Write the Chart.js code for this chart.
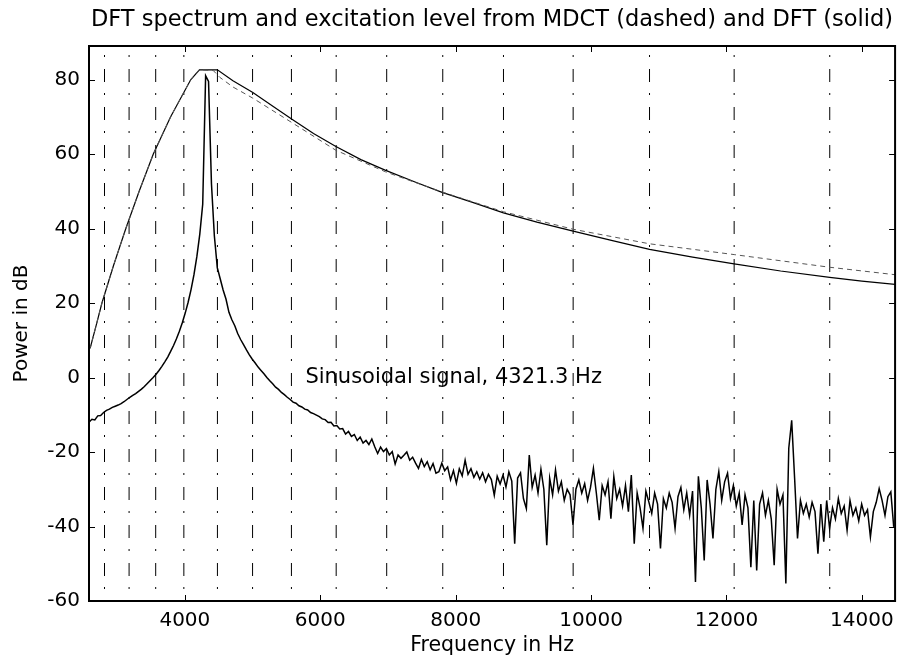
<!DOCTYPE html>
<html>
<head>
<meta charset="utf-8">
<script src="https://cdn.jsdelivr.net/npm/chart.js@4/dist/chart.umd.min.js"></script>
<style>
  html, body { margin: 0; padding: 0; background: #fff; }
  #c { display: block; }
</style>
</head>
<body>
<canvas id="c" width="902" height="659"></canvas>
<script>
// ---------------- data ----------------
const titleText = 'DFT spectrum and excitation level from MDCT (dashed) and DFT (solid)';
const xTitle = 'Frequency in Hz';
const yTitle = 'Power in dB';
const noteText = 'Sinusoidal signal, 4321.3 Hz';
const noteFreq = 5780;   // anchor of the annotation (data units)
const noteDb = 0;

const xMin = 2584, xMax = 14490;
const yMin = -60, yMax = 89;
const xTicks = [4000, 6000, 8000, 10000, 12000, 14000];
const yTicks = [-60, -40, -20, 0, 20, 40, 60, 80];

// band edges (dash-dot vertical lines), Hz
const bandEdgesHz = [2813, 3176, 3569, 3985, 4481, 5000, 5574, 6235, 6981, 7809, 8706, 9735, 10863, 12113, 13525];

// excitation level from DFT (solid)
const excDftHz = [2584, 2603, 2690, 2775, 2945, 3128, 3325, 3534, 3790, 4088, 4215, 4480, 4710, 5004, 5300, 5593, 5900, 6231, 6600, 6966, 7400, 7799, 8250, 8706, 9200, 9735, 10300, 10863, 11500, 12113, 12800, 13525, 14000, 14490];
const excDftDb = [7.6, 8.0, 14.0, 20.0, 30.0, 40.0, 50.0, 60.0, 70.0, 80.0, 82.6, 82.6, 79.7, 76.5, 72.8, 69.2, 65.5, 62.0, 58.5, 55.6, 52.5, 49.7, 47.0, 44.2, 41.7, 39.3, 36.8, 34.4, 32.3, 30.5, 28.6, 26.9, 25.9, 25.0];

// excitation level from MDCT (dashed)
const excMdctHz = [2584, 2603, 2690, 2775, 2945, 3128, 3325, 3534, 3790, 4088, 4215, 4420, 4515, 4710, 5004, 5593, 6231, 6966, 7799, 8706, 9735, 10863, 12113, 13525, 14490];
const excMdctDb = [7.6, 8.0, 14.0, 20.0, 30.0, 40.0, 50.0, 60.0, 70.0, 80.0, 82.6, 82.4, 80.6, 78.0, 75.0, 68.3, 61.0, 55.2, 49.8, 44.5, 39.8, 35.9, 33.0, 29.6, 27.6];

// DFT spectrum, one value per DFT bin (bin width binHz, first bin firstBin)
const binHz = 43.066;
const firstBin = 60;
const spectrumDb = [
  -12.0, -11.2, -11.4, -10.3, -10.2, -9.4, -8.8, -8.5, -8.0, -7.7,
  -7.4, -7.0, -6.5, -5.9, -5.3, -4.8, -4.3, -3.7, -3.1, -2.4,
  -1.6, -0.8, 0.0, 0.9, 1.9, 3.0, 4.2, 5.5, 7.0, 8.6,
  10.4, 12.4, 14.7, 17.3, 20.2, 23.6, 27.6, 32.5, 38.5, 46.5,
  81.0, 79.5, 52.0, 38.0, 29.5, 26.5, 23.5, 21.0, 17.5, 15.5,
  13.9, 11.8, 10.2, 8.8, 7.4, 6.1, 4.9, 3.9, 2.8, 1.9,
  1.0, 0.0, -0.9, -1.7, -2.6, -3.2, -4.0, -4.6, -5.3, -5.9,
  -6.6, -6.9, -7.6, -7.9, -8.5, -8.7, -9.4, -9.7, -10.1, -10.5,
  -11.1, -11.3, -12.1, -12.0, -13.0, -12.9, -13.8, -13.7, -15.2, -14.5,
  -15.8, -15.3, -16.9, -16.0, -17.6, -16.9, -18.0, -16.5, -18.6, -20.4,
  -18.7, -19.9, -19.1, -20.8, -19.9, -23.2, -20.8, -21.7, -20.9, -20.0,
  -22.2, -21.4, -23.0, -24.4, -22.0, -23.9, -22.6, -24.8, -23.1, -25.7,
  -25.3, -23.0, -25.0, -24.0, -27.5, -25.0, -28.4, -24.5, -26.4, -22.2,
  -26.0, -24.5, -26.8, -25.3, -27.3, -25.6, -28.0, -26.0, -27.4, -31.6,
  -26.5, -28.6, -26.2, -29.4, -25.3, -27.8, -44.6, -27.0, -25.6, -32.5,
  -35.2, -20.8, -29.5, -26.2, -31.0, -24.6, -30.0, -45.0, -27.0, -31.5,
  -24.8, -30.5, -28.0, -33.0, -30.0, -31.5, -39.6, -30.0, -27.5, -31.0,
  -28.5, -33.0, -29.5, -24.4, -31.0, -38.3, -29.0, -31.5, -28.0, -37.9,
  -26.6, -32.5, -30.0, -34.5, -29.0, -36.0, -26.2, -44.6, -31.0, -35.0,
  -40.5, -30.5, -33.4, -36.5, -31.0, -34.0, -45.9, -32.5, -35.0, -31.0,
  -33.5, -40.5, -32.0, -29.5, -35.5, -31.0, -37.0, -30.5, -54.9, -26.5,
  -35.0, -49.1, -27.5, -34.0, -43.2, -30.0, -25.3, -33.0, -28.0, -25.7,
  -32.5, -29.0, -34.5, -31.0, -39.6, -31.5, -35.0, -50.9, -33.0, -51.8,
  -34.0, -31.0, -37.0, -33.0, -38.0, -50.4, -30.0, -34.0, -31.5, -55.3,
  -19.0, -11.5, -27.0, -43.2, -33.0, -36.5, -34.0, -37.5, -33.5, -36.0,
  -47.3, -34.0, -44.1, -33.0, -40.5, -35.0, -38.0, -32.5, -36.5, -34.5,
  -41.0, -33.0, -37.0, -35.0, -38.5, -34.0, -37.0, -35.5, -42.8, -36.0,
  -33.5, -29.8, -33.0, -37.0, -32.0, -30.7, -40.1
];

// ---------------- chart ----------------
const FONT = 'DejaVu Sans';
const pairs = (xs, ys) => xs.map((v, i) => ({ x: v, y: ys[i] }));
const spectrumPts = spectrumDb.map((v, i) => ({ x: (firstBin + i) * binHz, y: v }));

const bandSets = bandEdgesHz.map(f => ({
  data: [{ x: f, y: yMax }, { x: f, y: yMin }],
  borderColor: '#000',
  borderWidth: 1,
  borderDash: [13, 11, 2, 12],
  borderDashOffset: 15,
  pointRadius: 0,
  order: 10
}));

const framePlugin = {
  id: 'frameTicks',
  afterDatasetsDraw(chart) {
    const { ctx, chartArea: a, scales } = chart;
    const xs = scales.x, ys = scales.y;
    const TL = 6;
    ctx.save();
    ctx.strokeStyle = '#000';
    ctx.lineWidth = 1;
    ctx.beginPath();
    xs.ticks.forEach(t => {
      const p = Math.round(xs.getPixelForValue(t.value)) + 0.5;
      ctx.moveTo(p, a.bottom); ctx.lineTo(p, a.bottom - TL);
      ctx.moveTo(p, a.top); ctx.lineTo(p, a.top + TL);
    });
    ys.ticks.forEach(t => {
      const p = Math.round(ys.getPixelForValue(t.value)) + 0.5;
      ctx.moveTo(a.left, p); ctx.lineTo(a.left + TL, p);
      ctx.moveTo(a.right, p); ctx.lineTo(a.right - TL, p);
    });
    ctx.stroke();
    ctx.lineWidth = 2;
    ctx.strokeRect(a.left, a.top, a.right - a.left, a.bottom - a.top);
    ctx.fillStyle = '#000';
    ctx.font = '21px "' + FONT + '"';
    ctx.textAlign = 'left';
    ctx.textBaseline = 'middle';
    ctx.fillText(noteText, xs.getPixelForValue(noteFreq), ys.getPixelForValue(noteDb));
    ctx.restore();
  }
};

new Chart(document.getElementById('c'), {
  type: 'line',
  data: {
    datasets: [
      {
        data: pairs(excMdctHz, excMdctDb),
        borderColor: '#555',
        borderWidth: 1,
        borderDash: [5, 4],
        pointRadius: 0,
        order: 1
      },
      {
        data: pairs(excDftHz, excDftDb),
        borderColor: '#000',
        borderWidth: 1.2,
        pointRadius: 0,
        order: 2
      },
      {
        data: spectrumPts,
        borderColor: '#000',
        borderWidth: 1.5,
        pointRadius: 0,
        order: 3
      },
      ...bandSets
    ]
  },
  options: {
    responsive: false,
    animation: false,
    devicePixelRatio: 1,
    layout: { padding: { left: 0, right: 4, top: 0, bottom: 0 } },
    plugins: {
      legend: { display: false },
      tooltip: { enabled: false },
      title: {
        display: true,
        text: titleText,
        color: '#000',
        fullSize: false,
        font: { family: FONT, size: 22.5, weight: 'normal', lineHeight: 1.2 },
        padding: { top: 7, bottom: 12 }
      }
    },
    scales: {
      x: {
        type: 'linear',
        min: xMin,
        max: xMax,
        afterBuildTicks: s => { s.ticks = xTicks.map(v => ({ value: v })); },
        afterFit: s => { s.height = 58; },
        grid: { display: false, drawTicks: false },
        border: { display: false },
        ticks: {
          color: '#000',
          padding: 8,
          maxRotation: 0,
          font: { family: FONT, size: 20 },
          callback: v => String(v)
        },
        title: {
          display: true,
          text: xTitle,
          color: '#000',
          font: { family: FONT, size: 20.5, lineHeight: 1.2 },
          padding: { top: 0, bottom: 1 }
        }
      },
      y: {
        type: 'linear',
        min: yMin,
        max: yMax,
        afterBuildTicks: s => { s.ticks = yTicks.map(v => ({ value: v })); },
        afterFit: s => { s.width = 89; },
        grid: { display: false, drawTicks: false },
        border: { display: false },
        ticks: {
          color: '#000',
          padding: 9,
          font: { family: FONT, size: 20 },
          callback: v => String(v)
        },
        title: {
          display: true,
          text: yTitle,
          color: '#000',
          font: { family: FONT, size: 20, lineHeight: 1.2 },
          padding: { top: 10, bottom: 0 }
        }
      }
    }
  },
  plugins: [framePlugin]
});
</script>
</body>
</html>
